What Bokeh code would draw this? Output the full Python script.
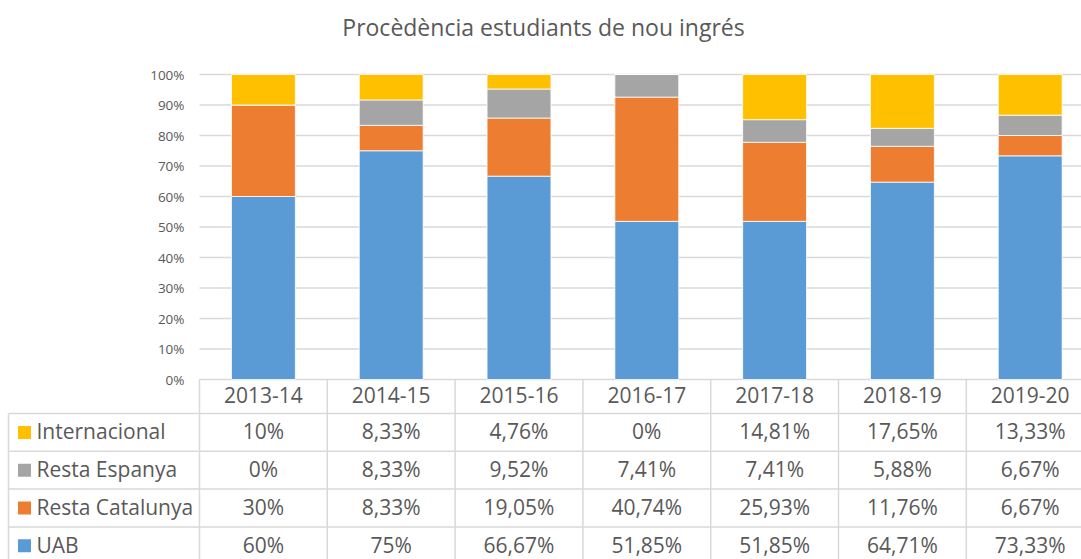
from bokeh.plotting import figure
from bokeh.models import Range1d, ColumnDataSource
from bokeh.core.properties import value
from bokeh.embed import file_html
from bokeh.resources import INLINE

# ---------------- data ----------------
title_text = "Procèdència estudiants de nou ingrés"
years = ["2013-14", "2014-15", "2015-16", "2016-17", "2017-18", "2018-19", "2019-20"]
uab = [60, 75, 66.67, 51.85, 51.85, 64.71, 73.33]
resta_catalunya = [30, 8.33, 19.05, 40.74, 25.93, 11.76, 6.67]
resta_espanya = [0, 8.33, 9.52, 7.41, 7.41, 5.88, 6.67]
internacional = [10, 8.33, 4.76, 0, 14.81, 17.65, 13.33]
y_ticks = [0, 10, 20, 30, 40, 50, 60, 70, 80, 90, 100]

stack_order = ["UAB", "Resta Catalunya", "Resta Espanya", "Internacional"]
table_order = ["Internacional", "Resta Espanya", "Resta Catalunya", "UAB"]
series = {
    "UAB": uab,
    "Resta Catalunya": resta_catalunya,
    "Resta Espanya": resta_espanya,
    "Internacional": internacional,
}
colors = {
    "UAB": "#5B9BD5",
    "Resta Catalunya": "#ED7D31",
    "Resta Espanya": "#A5A5A5",
    "Internacional": "#FFC000",
}

# ---------------- layout ----------------
W, H = 1081, 559
PX_X = 127.8          # pixels per category column
PX_Y = 3.05           # pixels per percent
LEFT_PX = 199         # figure left edge -> first category column
ZERO_PX = 379         # figure top edge -> 0% line
x_start = -LEFT_PX / PX_X
x_end = (W - LEFT_PX) / PX_X
y_end = ZERO_PX / PX_Y
y_start = -(H - ZERO_PX) / PX_Y

HEAD_H = 34 / PX_Y
ROW_H = 37.8 / PX_Y
TEXT_LIFT = 1.2 / PX_Y
LABEL_COL_X = (8 - LEFT_PX) / PX_X
SWATCH_X = (24 - LEFT_PX) / PX_X
LABEL_X = (36 - LEFT_PX) / PX_X
TICK_LABEL_X = (184 - LEFT_PX) / PX_X
TITLE_X = (543 - LEFT_PX) / PX_X
TITLE_Y = (ZERO_PX - 26) / PX_Y

TEXT = "#595959"
GRID = "#D9D9D9"
FONT = value("Open Sans")

p = figure(width=W, height=H, output_backend="svg", toolbar_location=None,
           x_range=Range1d(x_start, x_end), y_range=Range1d(y_start, y_end),
           x_axis_location=None, y_axis_location=None, min_border=0)
p.grid.visible = False
p.outline_line_color = None
p.background_fill_color = "white"
p.border_fill_color = "white"

xs = [i + 0.5 for i in range(len(years))]

# gridlines
p.segment(x0=[0] * len(y_ticks), x1=[x_end] * len(y_ticks), y0=y_ticks, y1=y_ticks,
          line_color=GRID, line_width=1.3)

# stacked bars
src = ColumnDataSource(dict(x=xs, **series))
p.vbar_stack(stack_order, x="x", width=0.5, source=src,
             fill_color=[colors[s] for s in stack_order],
             line_color="white", line_width=0.8)

# y tick labels
p.text(x=[TICK_LABEL_X] * len(y_ticks), y=y_ticks, text=[f"{t}%" for t in y_ticks],
       text_font=FONT, text_font_size="13.5px", text_color=TEXT,
       text_align="right", text_baseline="middle")

# title
p.text(x=[TITLE_X], y=[TITLE_Y], text=[title_text],
       text_font=FONT, text_font_size="23px", text_color=TEXT,
       text_align="center", text_baseline="middle")

# ---------------- data table ----------------
n = len(years)
# vertical lines
p.segment(x0=list(range(n + 1)), x1=list(range(n + 1)), y0=[0] * (n + 1),
          y1=[y_start] * (n + 1), line_color=GRID, line_width=1.5)
p.segment(x0=[LABEL_COL_X], x1=[LABEL_COL_X], y0=[-HEAD_H], y1=[y_start],
          line_color=GRID, line_width=1.5)
# horizontal lines
hy = [-HEAD_H - ROW_H * k for k in range(len(table_order))]
p.segment(x0=[LABEL_COL_X] * len(hy), x1=[x_end] * len(hy), y0=hy, y1=hy,
          line_color=GRID, line_width=1.5)

# header
p.text(x=xs, y=[-HEAD_H / 2 + TEXT_LIFT] * n, text=years, text_font=FONT,
       text_font_size="21px", text_color=TEXT, text_align="center",
       text_baseline="middle")


def fmt(v):
    if float(v) == int(v):
        return f"{int(v)}%"
    return f"{v:.2f}%".replace(".", ",")


for r, name in enumerate(table_order):
    yc = -HEAD_H - ROW_H * (r + 0.5)
    p.text(x=xs, y=[yc + TEXT_LIFT] * n, text=[fmt(v) for v in series[name]],
           text_font=FONT, text_font_size="21px", text_color=TEXT,
           text_align="center", text_baseline="middle")
    p.rect(x=[SWATCH_X], y=[yc], width=13, height=13, width_units="screen",
           height_units="screen", fill_color=colors[name], line_color=None)
    p.text(x=[LABEL_X], y=[yc + TEXT_LIFT], text=[name], text_font=FONT,
           text_font_size="21px", text_color=TEXT, text_align="left",
           text_baseline="middle")

open("out.html", "w").write(file_html(p, INLINE))
